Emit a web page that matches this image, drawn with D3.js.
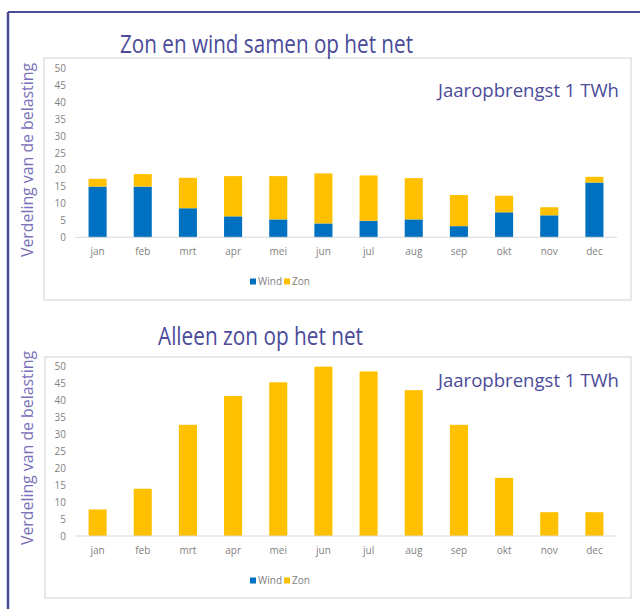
<!DOCTYPE html>
<html>
<head>
<meta charset="utf-8">
<script src="https://cdn.jsdelivr.net/npm/d3@7/dist/d3.min.js"></script>
<style>
  html, body { margin: 0; padding: 0; background: #fff; }
  svg { display: block; }
  text { font-family: "Open Sans", "Noto Sans", sans-serif; }
</style>
</head>
<body>
<svg id="chart" width="640" height="609"></svg>
<script>
// ---- data ----
const months = ["jan","feb","mrt","apr","mei","jun","jul","aug","sep","okt","nov","dec"];
const windMix = [15.0, 15.0, 8.6, 6.2, 5.3, 4.1, 4.9, 5.3, 3.3, 7.4, 6.5, 16.2];
const zonMix  = [2.3, 3.7, 9.0, 11.9, 12.8, 14.8, 13.4, 12.2, 9.2, 4.9, 2.4, 1.7];
const windOnly = [0,0,0,0,0,0,0,0,0,0,0,0];
const zonOnly  = [7.8, 13.9, 32.7, 41.2, 45.2, 49.8, 48.4, 42.9, 32.7, 17.1, 7.0, 7.0];
const yTicks = [0,5,10,15,20,25,30,35,40,45,50];
const seriesNames = ["Wind","Zon"];
const titles = ["Zon en wind samen op het net", "Alleen zon op het net"];
const subtitle = "Jaaropbrengst 1 TWh";
const yTitle = "Verdeling van de belasting";

const colors = { Wind: "#0070c0", Zon: "#ffc000" };
const svg = d3.select("#chart");

// outer frame (top + left lines)
svg.append("line").attr("x1", 8).attr("y1", 12).attr("x2", 640).attr("y2", 12)
  .attr("stroke", "#4b4b98").attr("stroke-width", 2);
svg.append("line").attr("x1", 8).attr("y1", 12).attr("x2", 8).attr("y2", 609)
  .attr("stroke", "#4b4b98").attr("stroke-width", 2.5);

function drawChart(cfg) {
  const g = svg.append("g");
  // panel
  g.append("rect").attr("x", cfg.panel[0]).attr("y", cfg.panel[1])
    .attr("width", cfg.panel[2]).attr("height", cfg.panel[3])
    .attr("fill", "#fff").attr("stroke", "#e0e0e0").attr("stroke-width", 1.5);

  const x = d3.scaleBand().domain(months).range([75, 617]).paddingInner(0.6).paddingOuter(0.3);
  const y = d3.scaleLinear().domain([0, 50]).range([cfg.y0, cfg.y50]);

  // stacked data
  const rows = months.map((m, i) => ({ month: m, Wind: cfg.wind[i], Zon: cfg.zon[i] }));
  const stack = d3.stack().keys(seriesNames)(rows);

  g.append("g").selectAll("g").data(stack).join("g")
    .attr("fill", d => colors[d.key])
    .selectAll("rect").data(d => d).join("rect")
    .attr("x", d => x(d.data.month))
    .attr("width", x.bandwidth())
    .attr("y", d => y(d[1]))
    .attr("height", d => Math.max(0, y(d[0]) - y(d[1])));

  // baseline
  g.append("line").attr("x1", 75).attr("x2", 617).attr("y1", y(0)).attr("y2", y(0))
    .attr("stroke", "#d9d9d9").attr("stroke-width", 1);

  // y axis ticks
  const ya = d3.axisLeft(y).tickValues(yTicks).tickSize(0).tickPadding(0);
  const yg = g.append("g").attr("transform", "translate(66,0)").call(ya);
  yg.select(".domain").remove();
  yg.selectAll("text").attr("fill", "#7f7f7f").attr("font-size", 10);

  // x axis labels
  const xa = d3.axisBottom(x).tickSize(0).tickPadding(0);
  const xg = g.append("g").attr("transform", `translate(0,${y(0) + 11})`).call(xa);
  xg.select(".domain").remove();
  xg.selectAll("text").attr("fill", "#7f7f7f").attr("font-size", 10);

  // title
  g.append("text").attr("x", cfg.titleX).attr("y", cfg.titleY).attr("text-anchor", "middle")
    .attr("font-size", cfg.titleSize).attr("fill", "#4b4b9a")
    .attr("textLength", cfg.titleLen).attr("lengthAdjust", "spacingAndGlyphs")
    .text(cfg.title);
  // subtitle
  g.append("text").attr("x", 619).attr("y", cfg.subY).attr("text-anchor", "end")
    .attr("font-size", 18.5).attr("fill", "#4b4b9a")
    .attr("textLength", 181).attr("lengthAdjust", "spacingAndGlyphs").text(subtitle);
  // y title
  g.append("text").attr("transform", `translate(33,${cfg.yTitleY}) rotate(-90)`)
    .attr("text-anchor", "middle").attr("font-size", 16).attr("fill", "#7a70b8")
    .attr("textLength", 194).attr("lengthAdjust", "spacingAndGlyphs").text(yTitle);

  // legend
  const lg = g.append("g").attr("transform", `translate(0,${cfg.legendY})`);
  const items = [{ k: "Wind", x: 250 }, { k: "Zon", x: 284 }];
  items.forEach(it => {
    lg.append("rect").attr("x", it.x).attr("y", -3).attr("width", 6).attr("height", 6)
      .attr("fill", colors[it.k]);
    lg.append("text").attr("x", it.x + 8).attr("y", 3.5).attr("font-size", 10)
      .attr("fill", "#7f7f7f").text(it.k);
  });
}

drawChart({
  panel: [44, 58, 587, 242], y0: 237.3, y50: 68.3,
  wind: windMix, zon: zonMix, title: titles[0], titleX: 266.5, titleY: 53, titleSize: 25, titleLen: 293,
  subY: 97, yTitleY: 160, legendY: 281.5
});
drawChart({
  panel: [45, 357, 586, 241], y0: 536, y50: 366,
  wind: windOnly, zon: zonOnly, title: titles[1], titleX: 260.5, titleY: 345, titleSize: 25, titleLen: 205,
  subY: 387, yTitleY: 448, legendY: 580.5
});
</script>
</body>
</html>
